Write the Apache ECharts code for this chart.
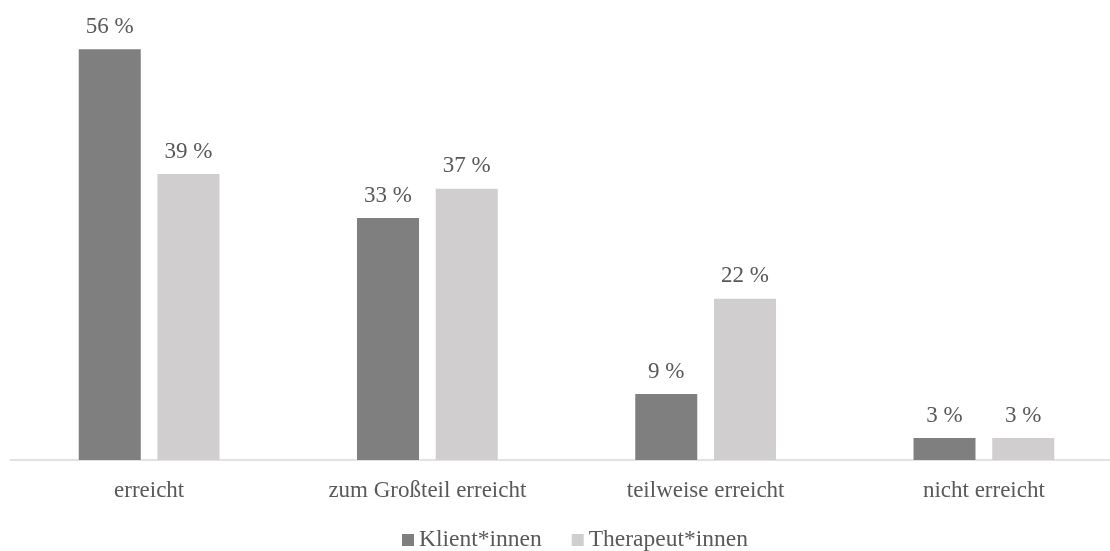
<!DOCTYPE html>
<html>
<head>
<meta charset="utf-8">
<script src="https://cdn.jsdelivr.net/npm/echarts@6/dist/echarts.min.js"></script>
<style>
  html, body { margin: 0; padding: 0; background: #fff; }
  #chart { width: 1110px; height: 551px; }
</style>
</head>
<body>
<div id="chart"></div>
<script>
// Kategorien und Werte (in %)
var categories = ["erreicht", "zum Großteil erreicht", "teilweise erreicht", "nicht erreicht"];
var klientValues = [56, 33, 9, 3];
var therapeutValues = [39, 37, 22, 3];
var seriesNames = ["Klient*innen", "Therapeut*innen"];

var font = "'Liberation Serif', 'DejaVu Serif', serif";
var textColor = "#595959";

var myChart = echarts.init(document.getElementById("chart"));

function barSeries(name, data, color) {
  return {
    name: name,
    type: "bar",
    data: data,
    barWidth: 62,
    barGap: "27%",
    itemStyle: { color: color },
    label: {
      show: true,
      position: "top",
      distance: 11,
      formatter: "{c} %",
      color: textColor,
      fontFamily: font,
      fontSize: 23
    }
  };
}

var option = {
  animation: false,
  grid: {
    left: 10,
    width: 1113,
    top: 20,
    bottom: 91,
    containLabel: false,
    outerBoundsMode: "none"
  },
  legend: {
    data: seriesNames,
    top: 523,
    left: 397,
    itemWidth: 12,
    itemHeight: 12,
    itemGap: 30,
    icon: "rect",
    textStyle: {
      color: textColor,
      fontFamily: font,
      fontSize: 23.5
    }
  },
  xAxis: {
    type: "category",
    data: categories,
    axisLine: { lineStyle: { color: "#d9d9d9", width: 1.5 } },
    axisTick: { show: false },
    axisLabel: {
      color: textColor,
      fontFamily: font,
      fontSize: 23,
      margin: 19,
      interval: 0
    }
  },
  yAxis: {
    type: "value",
    min: 0,
    max: 60,
    show: false,
    splitLine: { show: false }
  },
  series: [
    barSeries(seriesNames[0], klientValues, "#7f7f7f"),
    barSeries(seriesNames[1], therapeutValues, "#d0cece")
  ]
};

myChart.setOption(option);
</script>
</body>
</html>
